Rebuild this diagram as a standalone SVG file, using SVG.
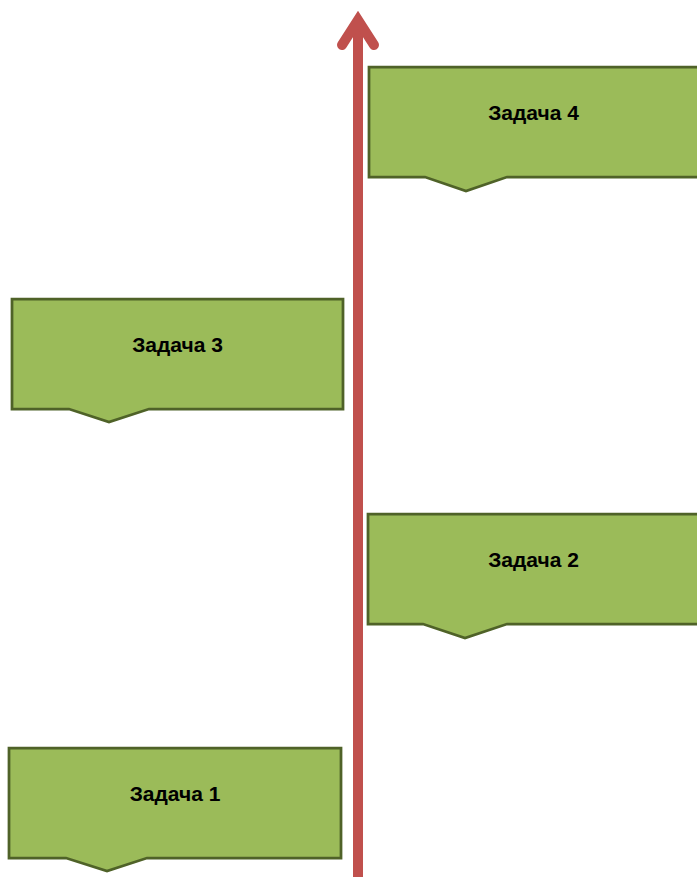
<svg xmlns="http://www.w3.org/2000/svg" width="697" height="877" viewBox="0 0 697 877">
<defs>
<style>
.box{fill:#9bbb59;stroke:#4f6228;stroke-width:2.75;stroke-linejoin:miter}
.lbl{font-family:"Liberation Sans",Arial,sans-serif;font-weight:bold;font-size:21px;fill:#000;text-anchor:middle}
.axis{fill:none;stroke:#c0504d;stroke-width:10}
</style>
</defs>
<g id="connectors">
<line class="axis" x1="358" y1="877" x2="358" y2="22"/>
<polyline class="axis" points="342,45 358,20 374,45" stroke-linecap="round" stroke-linejoin="miter"/>
</g>
<g id="task4">
<path class="box" d="M369,67 H699 V177 H507 L466,191 L425,177 H369 Z"/>
<text class="lbl" x="533.5" y="120">Задача 4</text>
</g>
<g id="task3">
<path class="box" d="M12,299 H343 V409 H149 L109,422 L69,409 H12 Z"/>
<text class="lbl" x="177.5" y="352">Задача 3</text>
</g>
<g id="task2">
<path class="box" d="M368,514 H699 V624 H507 L465,638 L423,624 H368 Z"/>
<text class="lbl" x="533.5" y="567">Задача 2</text>
</g>
<g id="task1">
<path class="box" d="M9,748 H341 V858 H147 L107,871 L66,858 H9 Z"/>
<text class="lbl" x="175" y="801">Задача 1</text>
</g>
</svg>
